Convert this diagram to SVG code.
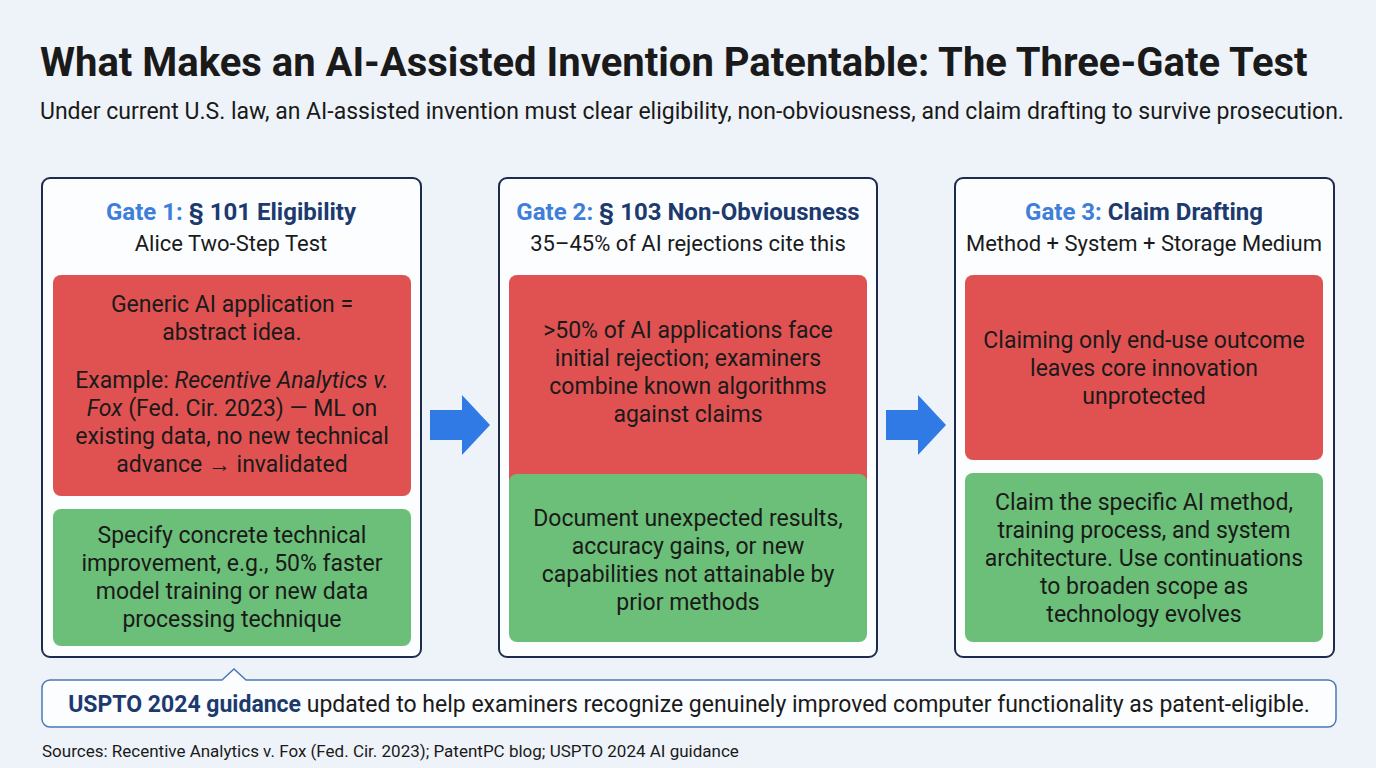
<svg xmlns="http://www.w3.org/2000/svg" width="1376" height="768" viewBox="0 0 1376 768">
<style>
text{font-family:Roboto,"Liberation Sans",sans-serif;fill:#1a1a1a}
.gate{fill:#fbfdff;stroke:#1d2b4d;stroke-width:2}
.red{fill:#e05252}
.green{fill:#6bbf78}
.h{font-size:24px;font-weight:bold;text-anchor:middle;fill:#1d3a6e}
.hb{fill:#3f7fd9}
.s{font-size:22px;text-anchor:middle}
.b{font-size:23px;text-anchor:middle}
.arrow{fill:#2f7ae5}
</style>
<rect width="1376" height="768" fill="#eef3f9"/>
<text x="40" y="76" font-size="40" font-weight="bold" fill="#111">What Makes an AI-Assisted Invention Patentable: The Three-Gate Test</text>
<text x="40" y="119" font-size="23">Under current U.S. law, an AI-assisted invention must clear eligibility, non-obviousness, and claim drafting to survive prosecution.</text>
<g id="gate1">
<rect class="gate" x="42" y="178" width="379" height="479" rx="8"/>
<text class="h" x="231" y="220"><tspan class="hb">Gate 1:</tspan> § 101 Eligibility</text>
<text class="s" x="231" y="251">Alice Two-Step Test</text>
<rect class="red" x="53" y="275" width="358" height="221" rx="8"/>
<text class="b" x="232" y="312">Generic AI application =</text>
<text class="b" x="232" y="340">abstract idea.</text>
<text class="b" x="232" y="388">Example: <tspan font-style="italic">Recentive Analytics v.</tspan></text>
<text class="b" x="232" y="416"><tspan font-style="italic">Fox</tspan> (Fed. Cir. 2023) — ML on</text>
<text class="b" x="232" y="444">existing data, no new technical</text>
<text class="b" x="232" y="472">advance → invalidated</text>
<rect class="green" x="53" y="509" width="358" height="137" rx="8"/>
<text class="b" x="232" y="543">Specify concrete technical</text>
<text class="b" x="232" y="571">improvement, e.g., 50% faster</text>
<text class="b" x="232" y="599">model training or new data</text>
<text class="b" x="232" y="627">processing technique</text>
</g>
<g id="gate2">
<rect class="gate" x="499" y="178" width="378" height="479" rx="8"/>
<text class="h" x="688" y="220"><tspan class="hb">Gate 2:</tspan> § 103 Non-Obviousness</text>
<text class="s" x="688" y="251">35–45% of AI rejections cite this</text>
<rect class="red" x="509" y="275" width="358" height="213" rx="8"/>
<text class="b" x="688" y="338">&gt;50% of AI applications face</text>
<text class="b" x="688" y="366">initial rejection; examiners</text>
<text class="b" x="688" y="394">combine known algorithms</text>
<text class="b" x="688" y="422">against claims</text>
<rect class="green" x="509" y="474" width="358" height="168" rx="8"/>
<text class="b" x="688" y="526">Document unexpected results,</text>
<text class="b" x="688" y="554">accuracy gains, or new</text>
<text class="b" x="688" y="582">capabilities not attainable by</text>
<text class="b" x="688" y="610">prior methods</text>
</g>
<g id="gate3">
<rect class="gate" x="955" y="178" width="379" height="479" rx="8"/>
<text class="h" x="1144" y="220"><tspan class="hb">Gate 3:</tspan> Claim Drafting</text>
<text class="s" x="1144" y="251">Method + System + Storage Medium</text>
<rect class="red" x="965" y="275" width="358" height="185" rx="8"/>
<text class="b" x="1144" y="348">Claiming only end-use outcome</text>
<text class="b" x="1144" y="376">leaves core innovation</text>
<text class="b" x="1144" y="404">unprotected</text>
<rect class="green" x="965" y="473" width="358" height="169" rx="8"/>
<text class="b" x="1144" y="510">Claim the specific AI method,</text>
<text class="b" x="1144" y="538">training process, and system</text>
<text class="b" x="1144" y="566">architecture. Use continuations</text>
<text class="b" x="1144" y="594">to broaden scope as</text>
<text class="b" x="1144" y="622">technology evolves</text>
</g>
<g id="connectors">
<polygon class="arrow" points="430,410 462,410 462,395 490,425 462,455 462,440 430,440"/>
<polygon class="arrow" points="886,410 918,410 918,395 946,425 918,455 918,440 886,440"/>
</g>
<g id="callout">
<path d="M50,680 H222 L234,669 L246,680 H1328 a8,8 0 0 1 8,8 V719 a8,8 0 0 1 -8,8 H50 a8,8 0 0 1 -8,-8 V688 a8,8 0 0 1 8,-8 Z" fill="#fbfdff" stroke="#4a78b8" stroke-width="1.5"/>
<text x="689" y="712" font-size="23" text-anchor="middle"><tspan font-weight="bold" fill="#1d3a6e">USPTO 2024 guidance</tspan> updated to help examiners recognize genuinely improved computer functionality as patent-eligible.</text>
</g>
<text x="42" y="757" font-size="17">Sources: Recentive Analytics v. Fox (Fed. Cir. 2023); PatentPC blog; USPTO 2024 AI guidance</text>
</svg>
